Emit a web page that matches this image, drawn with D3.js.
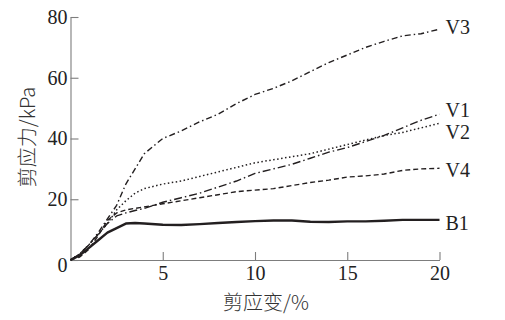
<!DOCTYPE html>
<html>
<head>
<meta charset="utf-8">
<script src="https://cdn.jsdelivr.net/npm/d3@7"></script>
<style>
  body { margin: 0; background: #fff; }
  svg { display: block; }
</style>
</head>
<body>
<div id="chart-area"></div>
<script>
// strain (%) sampled along each curve
var strain = [0, 0.5, 1, 1.5, 2, 2.5, 3, 3.5, 4, 5, 6, 7, 8, 9, 10, 11, 12, 13, 14, 15, 16, 17, 18, 19, 20];

// shear stress (kPa)
var V3 = [0, 2, 5, 9, 13.5, 18, 25, 30, 35, 40, 42.5, 45.5, 48, 51.5, 54.5, 56.5, 59, 62, 65, 67.5, 70, 72, 73.8, 74.5, 76];
var V1 = [0, 2, 5, 8.5, 12, 14.5, 15.5, 16.3, 17, 19, 20.5, 22, 24, 26, 28.5, 30, 31.5, 33.5, 35.5, 37, 39, 41, 43.5, 46, 48];
var V2 = [0, 2, 5, 8.5, 12, 16.5, 19.5, 22, 23.5, 25, 26, 27.5, 29, 30.5, 32, 33, 34, 35, 36.5, 38, 39.5, 41, 42, 43.5, 45];
var V4 = [0, 1, 3.5, 8, 13, 15.5, 16.5, 17, 17.5, 18.5, 19.5, 20.5, 21.5, 22.5, 23, 23.5, 24.5, 25.5, 26.3, 27.3, 27.7, 28.3, 29.5, 30, 30.2];
var B1 = [0, 1.5, 4, 6.5, 9, 10.5, 12, 12.2, 12, 11.6, 11.5, 11.8, 12.2, 12.5, 12.8, 13, 13, 12.6, 12.5, 12.7, 12.7, 12.9, 13.2, 13.2, 13.2];

var xTicks = [5, 10, 15, 20];
var yTicks = [0, 20, 40, 60, 80];

var seriesNames = ["V3", "V1", "V2", "V4", "B1"];
var seriesValues = [V3, V1, V2, V4, B1];
var dashes = ["6,3,1.5,3", "8,3,1.5,3", "1.5,2.5", "5,3", null];
var widths = [1.4, 1.4, 1.5, 1.4, 2.4];
var labelDy = [-2, -4, 9, 2, 3];

var width = 505, height = 320;
var margin = {left: 70.5, right: 65.5, top: 17, bottom: 60};

var svg = d3.select("#chart-area").append("svg")
	.attr("width", width)
	.attr("height", height);

var x = d3.scaleLinear()
	.domain([0, 20])
	.range([margin.left, width - margin.right]);

var y = d3.scaleLinear()
	.domain([0, 80])
	.range([height - margin.bottom, margin.top]);

// axes, ticks pointing inward
var xAxis = svg.append("g")
	.attr("transform", "translate(0," + (height - margin.bottom) + ")")
	.call(d3.axisBottom(x).tickValues(xTicks).tickSizeInner(-8).tickSizeOuter(0).tickPadding(6));

var yAxis = svg.append("g")
	.attr("transform", "translate(" + margin.left + ",0)")
	.call(d3.axisLeft(y).tickValues(yTicks).tickSizeInner(-8).tickSizeOuter(0).tickPadding(3));

[xAxis, yAxis].forEach(function(a){
	a.selectAll("path, line").attr("stroke", "#7d7d7d").attr("stroke-width", 1.1);
	a.selectAll("text")
		.style("font-family", "'Liberation Serif', 'Times New Roman', serif")
		.style("font-size", "20px")
		.attr("fill", "#222");
});
yAxis.selectAll(".tick text").filter(function(d){ return d === 0; }).attr("dy", "0.55em");

var line = d3.line()
	.x(function(d){ return x(d[0]); })
	.y(function(d){ return y(d[1]); });

seriesValues.forEach(function(vals, i){
	var pts = strain.map(function(s, j){ return [s, vals[j]]; });
	svg.append("path")
		.datum(pts)
		.attr("d", line)
		.attr("fill", "none")
		.attr("stroke", "#231f20")
		.attr("stroke-width", widths[i])
		.attr("stroke-linejoin", "round")
		.attr("stroke-dasharray", dashes[i]);

	svg.append("text")
		.attr("x", x(20) + 6)
		.attr("y", y(vals[vals.length - 1]) + labelDy[i])
		.attr("dy", "0.35em")
		.style("font-family", "'Liberation Serif', 'Times New Roman', serif")
		.style("font-size", "20px")
		.attr("fill", "#222")
		.text(seriesNames[i]);
});

// axis titles
svg.append("text")
	.attr("x", 266)
	.attr("y", 303)
	.attr("dy", "0.35em")
	.attr("text-anchor", "middle")
	.style("font-family", "'Noto Sans CJK SC', sans-serif")
	.style("font-size", "20px")
	.style("font-weight", 300)
	.attr("fill", "#333")
	.text("剪应变/%");

svg.append("text")
	.attr("transform", "translate(28,137) rotate(-90)")
	.attr("dy", "0.35em")
	.attr("text-anchor", "middle")
	.style("font-family", "'Noto Sans CJK SC', sans-serif")
	.style("font-size", "20px")
	.style("font-weight", 300)
	.attr("fill", "#333")
	.text("剪应力/kPa");
</script>
</body>
</html>
